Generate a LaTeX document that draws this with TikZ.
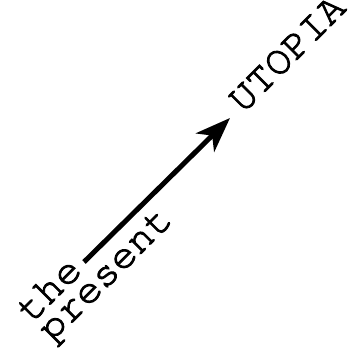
\documentclass[tikz,border=0pt]{standalone}
\usepackage[T1]{fontenc}
\usetikzlibrary{arrows.meta}
\newcommand{\courierfont}{\fontencoding{T1}\fontfamily{pcr}\fontsize{41}{47}\selectfont}
\newcommand{\heavytext}[1]{\special{pdf:literal direct 2 Tr 0.9 w}#1\special{pdf:literal direct 0 Tr}}
\tikzset{wordtext/.style={font=\courierfont,rotate=45,inner sep=0pt,anchor=base west}}

\begin{document}
\begin{tikzpicture}[x=1pt,y=1pt]
\useasboundingbox (0,0) rectangle (349,356);
\node[wordtext] (the) at (31,32) {\heavytext{the}};
\node[wordtext] (present) at (52,13) {\heavytext{present}};
\node[wordtext] (utopia) at (243,242) {\heavytext{UTOPIA}};
\coordinate (start) at (84,94);
\coordinate (goal) at (230,238);
\draw[line width=5pt,-{Stealth[length=35pt,width=26pt,inset=10pt]}] (start) -- (goal);
\end{tikzpicture}
\end{document}
